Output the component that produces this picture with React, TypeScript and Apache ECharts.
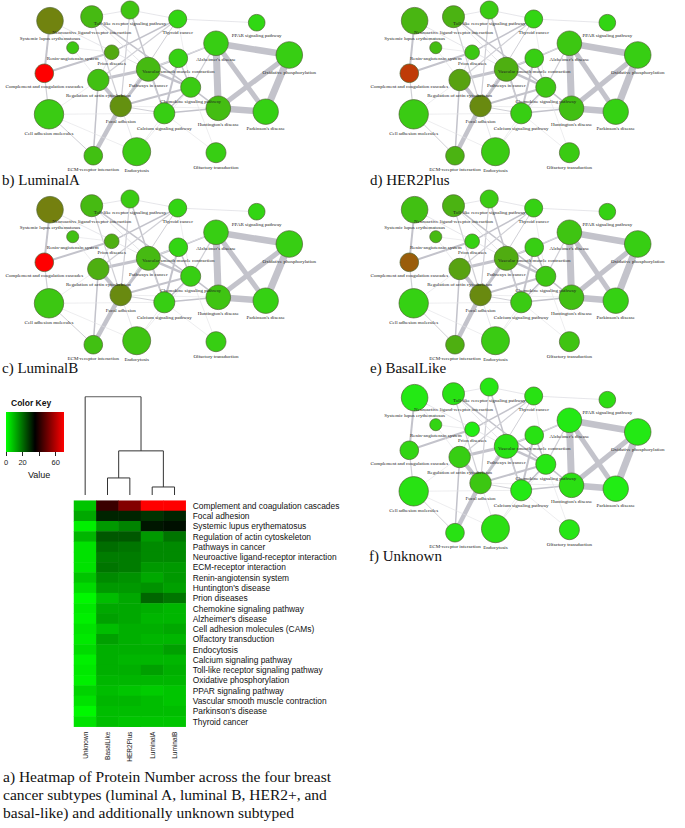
import React, { useEffect, useRef } from "react";
import * as echarts from "echarts";

// Heatmap rows (top to bottom)
const rowNames = [
  "Complement and coagulation cascades",
  "Focal adhesion",
  "Systemic lupus erythematosus",
  "Regulation of actin cytoskeleton",
  "Pathways in cancer",
  "Neuroactive ligand-receptor interaction",
  "ECM-receptor interaction",
  "Renin-angiotensin system",
  "Huntington's disease",
  "Prion diseases",
  "Chemokine signaling pathway",
  "Alzheimer's disease",
  "Cell adhesion molecules (CAMs)",
  "Olfactory transduction",
  "Endocytosis",
  "Calcium signaling pathway",
  "Toll-like receptor signaling pathway",
  "Oxidative phosphorylation",
  "PPAR signaling pathway",
  "Vascular smooth muscle contraction",
  "Parkinson's disease",
  "Thyroid cancer",
];

// Network node labels (same order as rowNames)
const netLabels = [
  "Complement and coagulation cascades",
  "Focal adhesion",
  "Systemic lupus erythematosus",
  "Regulation of actin cytoskeleton",
  "Pathways in cancer",
  "Neuroactive ligand-receptor interaction",
  "ECM-receptor interaction",
  "Renin-angiotensin system",
  "Huntington's disease",
  "Prion diseases",
  "Chemokine signaling pathway",
  "Alzheimer's disease",
  "Cell adhesion molecules",
  "Olfactory transduction",
  "Endocytosis",
  "Calcium signaling pathway",
  "Toll-like receptor signaling pathway",
  "Oxidative phosphorylation",
  "PPAR signaling pathway",
  "Vascular smooth muscle contraction",
  "Parkinson's disease",
  "Thyroid cancer",
];

const subtypes = ["Unknown", "BasalLike", "HER2Plus", "LuminalA", "LuminalB"];

// Protein number per pathway (row order above)
const unknownVals = [8, 12, 2, 10, 4, 4, 4, 8, 5, 1, 3, 2, 4, 3, 5, 2, 3, 2, 6, 4, 1, 4];
const basalLikeVals = [43, 30, 14, 23, 20, 18, 19, 16, 14, 9, 12, 13, 9, 13, 11, 11, 11, 10, 9, 10, 9, 9];
const her2PlusVals = [53, 30, 17, 23, 19, 18, 18, 15, 14, 12, 12, 12, 11, 11, 11, 10, 11, 10, 8, 10, 9, 8];
const luminalAVals = [70, 28, 32, 14, 16, 16, 14, 12, 15, 21, 11, 10, 11, 10, 11, 10, 13, 10, 7, 9, 9, 8];
const luminalBVals = [70, 30, 33, 19, 16, 16, 14, 14, 13, 19, 10, 10, 12, 10, 13, 10, 11, 10, 8, 8, 9, 8];

const valuesBySubtype: Record<string, number[]> = {
  Unknown: unknownVals,
  BasalLike: basalLikeVals,
  HER2Plus: her2PlusVals,
  LuminalA: luminalAVals,
  LuminalB: luminalBVals,
};

// Network layout (shared by all panels), node diameters
const nodeX = [44.3, 120.7, 50, 98.3, 148.3, 91.7, 93.3, 72.7, 218.3, 111.7, 190.7, 216, 49, 216, 136.7, 164.3, 130, 289.3, 256.7, 178.3, 265.7, 177.7];
const nodeY = [73.3, 106, 20.7, 80, 69.3, 16.7, 155.7, 47.7, 108.3, 52.3, 87.3, 43.3, 114.3, 152.7, 151.7, 113.3, 10, 55, 22.7, 58.3, 111.7, 19];
const nodeSize = [18.6, 21.4, 26.6, 21.4, 24, 22, 18.6, 12, 24.6, 14.6, 20, 24.6, 29.4, 20, 28, 21, 18, 26.6, 16.6, 18.6, 25.4, 18];

// Edges: [source, target, weight]
const edges: [number, number, number][] = [
  [11, 17, 6.5], [11, 8, 7], [11, 20, 5], [17, 8, 5], [17, 20, 7], [8, 20, 6.5],
  [1, 6, 4.5], [1, 3, 4], [4, 3, 3], [4, 1, 3], [4, 10, 2.5], [4, 19, 2], [1, 10, 2],
  [0, 9, 2], [2, 0, 2], [3, 6, 1.5], [19, 11, 1.5], [19, 15, 2], [10, 8, 1.5], [15, 8, 1.5],
  [9, 21, 1.5], [16, 15, 1.5], [5, 10, 1.5], [19, 10, 1.5], [15, 10, 1.5], [0, 12, 1.2],
  [12, 6, 1], [5, 1, 1.2], [16, 1, 1.2], [21, 3, 1.2], [21, 1, 1], [10, 11, 1.2], [15, 1, 1], [4, 15, 1],
  [16, 21, 0.8], [21, 18, 0.8], [5, 16, 0.8], [2, 4, 0.8], [7, 9, 0.6], [12, 3, 0.6], [12, 15, 0.6],
  [1, 14, 0.8], [14, 15, 0.6], [10, 13, 0.6], [15, 13, 0.6], [14, 10, 0.6], [21, 10, 0.6], [9, 3, 0.8],
  [1, 8, 0.6], [4, 11, 0.8], [2, 3, 0.6], [12, 14, 0.6], [5, 4, 0.8],
];

// Dendrogram merges (column clustering)
const dendroMerges: { a: string | number; b: string | number; height: number }[] = [
  { a: "BasalLike", b: "HER2Plus", height: 17 },
  { a: "LuminalA", b: "LuminalB", height: 8 },
  { a: 0, b: 1, height: 44 },
  { a: "Unknown", b: 2, height: 98 },
];

const keyTickLabels = [0, 20, 60];

const panels = [
  { subtype: "LuminalA", label: "b) LuminalA", x: 0, y: 0, lx: 2, ly: 181 },
  { subtype: "HER2Plus", label: "d) HER2Plus", x: 368, y: 0, lx: 370, ly: 181 },
  { subtype: "LuminalB", label: "c) LuminalB", x: 0, y: 189, lx: 2, ly: 369 },
  { subtype: "BasalLike", label: "e) BasalLike", x: 368, y: 189, lx: 370, ly: 369 },
  { subtype: "Unknown", label: "f) Unknown", x: 368, y: 377, lx: 369, ly: 557 },
];

function nodeColor(v: number): string {
  const stops = [
    [0, 30, 240, 20],
    [30, 105, 138, 16],
    [70, 255, 0, 0],
  ];
  let i = 0;
  while (i < stops.length - 2 && v > stops[i + 1][0]) i++;
  const a = stops[i], b = stops[i + 1];
  const t = Math.max(0, Math.min(1, (v - a[0]) / (b[0] - a[0])));
  const c = [1, 2, 3].map((k) => Math.round(a[k] + (b[k] - a[k]) * t));
  return `rgb(${c[0]},${c[1]},${c[2]})`;
}

function edgeColor(w: number): string {
  if (w >= 1.5) return "#c3c3cb";
  if (w >= 1) return "#d0d0d6";
  return "#e0e0e4";
}

export default function App() {
  const ref = useRef<HTMLDivElement>(null);
  useEffect(() => {
    document.body.style.margin = "0";
    if (!ref.current) return;
    const chart = echarts.init(ref.current, undefined, { renderer: "svg" });

    const grids: any[] = [];
    const xAxes: any[] = [];
    const yAxes: any[] = [];
    const series: any[] = [];
    const graphics: any[] = [];

    panels.forEach((p, i) => {
      grids.push({ left: p.x, top: p.y, width: 340, height: 175, show: false });
      xAxes.push({ type: "value", gridIndex: i, min: 0, max: 340, show: false });
      yAxes.push({ type: "value", gridIndex: i, min: 0, max: 175, inverse: true, show: false });
      const vals = valuesBySubtype[p.subtype];
      series.push({
        type: "graph",
        layout: "none",
        coordinateSystem: "cartesian2d",
        xAxisIndex: i,
        yAxisIndex: i,
        silent: true,
        emphasis: { disabled: true },
        data: netLabels.map((n, k) => ({
          name: n,
          value: [nodeX[k], nodeY[k]],
          symbolSize: nodeSize[k],
          itemStyle: { color: nodeColor(vals[k]) },
        })),
        links: edges.map(([s, t, w]) => ({
          source: s,
          target: t,
          lineStyle: { width: w, color: edgeColor(w), opacity: 1 },
        })),
        itemStyle: { borderColor: "#4f6432", borderWidth: 0.7 },
        lineStyle: { curveness: 0 },
        label: {
          show: true,
          position: "bottom",
          distance: 1.5,
          fontSize: 5,
          fontFamily: "Liberation Serif",
          color: "#222",
        },
      });
      graphics.push({
        type: "text",
        left: p.lx,
        top: p.ly - 9,
        style: { text: p.label, fontSize: 15, fontFamily: "Liberation Serif", fill: "#111" },
      });
    });

    // Heatmap grid
    const hmIndex = grids.length;
    grids.push({ left: 74, top: 500.7, width: 111.7, height: 226, show: false });
    xAxes.push({
      type: "category",
      gridIndex: hmIndex,
      data: subtypes,
      position: "bottom",
      axisLine: { show: false },
      axisTick: { show: false },
      axisLabel: { rotate: 90, fontSize: 6.5, fontFamily: "Liberation Sans", color: "#222", margin: 5, interval: 0 },
    });
    yAxes.push({
      type: "category",
      gridIndex: hmIndex,
      data: rowNames,
      inverse: true,
      position: "right",
      axisLine: { show: false },
      axisTick: { show: false },
      axisLabel: { fontSize: 8.4, fontFamily: "Liberation Sans", color: "#111", margin: 7, interval: 0 },
    });
    const hmData: number[][] = [];
    subtypes.forEach((s, ci) => {
      valuesBySubtype[s].forEach((v, ri) => hmData.push([ci, ri, v]));
    });
    const hmSeriesIndex = series.length;
    series.push({
      type: "heatmap",
      xAxisIndex: hmIndex,
      yAxisIndex: hmIndex,
      data: hmData,
      silent: true,
      emphasis: { disabled: true },
      itemStyle: { borderWidth: 0 },
    });

    // Dendrogram grid
    const dIndex = grids.length;
    grids.push({ left: 74, top: 396.7, width: 111.7, height: 98.3, show: false });
    xAxes.push({ type: "value", gridIndex: dIndex, min: -0.5, max: subtypes.length - 0.5, show: false });
    yAxes.push({ type: "value", gridIndex: dIndex, min: 0, max: 98, show: false });
    const clusters: { x: number; y: number }[] = [];
    const pos = (n: string | number) =>
      typeof n === "string" ? { x: subtypes.indexOf(n), y: 0 } : clusters[n];
    const dLines: any[] = [];
    dendroMerges.forEach((m) => {
      const a = pos(m.a), b = pos(m.b);
      dLines.push({ coords: [[a.x, a.y], [a.x, m.height], [b.x, m.height], [b.x, b.y]] });
      clusters.push({ x: (a.x + b.x) / 2, y: m.height });
    });
    series.push({
      type: "lines",
      coordinateSystem: "cartesian2d",
      xAxisIndex: dIndex,
      yAxisIndex: dIndex,
      polyline: true,
      silent: true,
      data: dLines,
      lineStyle: { color: "#333", width: 1, opacity: 1 },
    });

    // Color key grid
    const kIndex = grids.length;
    grids.push({
      left: 6,
      top: 412,
      width: 58,
      height: 40,
      show: true,
      borderWidth: 0,
      backgroundColor: new echarts.graphic.LinearGradient(0, 0, 1, 0, [
        { offset: 0, color: "#00ff00" },
        { offset: 0.5, color: "#000000" },
        { offset: 1, color: "#ff0000" },
      ]),
    });
    xAxes.push({
      type: "value",
      gridIndex: kIndex,
      min: 0,
      max: 70,
      interval: 20,
      position: "bottom",
      splitLine: { show: false },
      axisLine: { show: false },
      axisTick: { show: true, length: 4, lineStyle: { color: "#222" } },
      axisLabel: {
        fontSize: 7.5,
        fontFamily: "Liberation Sans",
        color: "#222",
        margin: 6,
        showMaxLabel: false,
        formatter: (v: number) => (keyTickLabels.includes(v) ? String(v) : ""),
      },
    });
    yAxes.push({ type: "value", gridIndex: kIndex, min: 0, max: 1, show: false });

    graphics.push(
      {
        type: "text",
        left: 11,
        top: 398,
        style: { text: "Color Key", fontSize: 8.5, fontWeight: "bold", fontFamily: "Liberation Sans", fill: "#111" },
      },
      {
        type: "text",
        left: 28,
        top: 470,
        style: { text: "Value", fontSize: 9, fontFamily: "Liberation Sans", fill: "#111" },
      },
      {
        type: "text",
        left: 3,
        top: 767,
        style: {
          text:
            "a) Heatmap of Protein Number across the four breast\ncancer subtypes (luminal A, luminal B, HER2+, and\nbasal-like) and additionally unknown subtyped",
          fontSize: 15.5,
          lineHeight: 18,
          fontFamily: "Liberation Serif",
          fill: "#111",
        },
      }
    );

    chart.setOption({
      animation: false,
      backgroundColor: "#ffffff",
      grid: grids,
      xAxis: xAxes,
      yAxis: yAxes,
      visualMap: [
        {
          type: "continuous",
          show: false,
          min: 0,
          max: 70,
          dimension: 2,
          seriesIndex: hmSeriesIndex,
          inRange: { color: ["#00ff00", "#000000", "#ff0000"] },
        },
      ],
      series,
      graphic: graphics,
    });
    return () => chart.dispose();
  }, []);
  return <div ref={ref} style={{ width: 685, height: 828 }} />;
}
